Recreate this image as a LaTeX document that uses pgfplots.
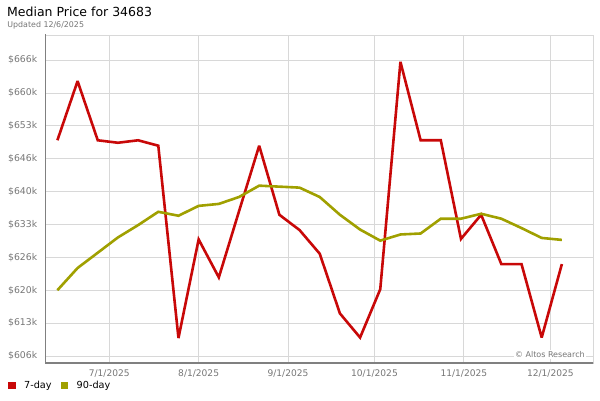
\documentclass[border=0pt]{standalone}
\usepackage{pgfplots}
\pgfplotsset{compat=1.18}
\usepackage{fontspec}
\setmainfont{DejaVu Sans}
\definecolor{cred}{RGB}{200,8,8}
\definecolor{cyel}{RGB}{160,160,0}
\definecolor{gridg}{RGB}{216,216,216}
\definecolor{barg}{RGB}{128,128,128}
\definecolor{tickg}{RGB}{118,118,118}
\begin{document}
\begin{tikzpicture}[x=1pt,y=1pt]
\useasboundingbox (0,0) rectangle (600,400);
\node[anchor=base west,inner sep=0pt,font=\fontsize{12.5}{14}\selectfont] at (7,383) {Median Price for 34683};
\node[anchor=base west,inner sep=0pt,text=tickg,font=\fontsize{7.9}{9}\selectfont] at (7.2,372.5) {Updated 12/6/2025};
\begin{axis}[
  at={(45pt,37pt)}, anchor=south west,
  scale only axis, width=548pt, height=328pt,
  xmin=-22.3, xmax=167.8, ymin=605.24, ymax=671.75,
  xtick={0,31,62,92,123,153},
  xticklabels={7/1/2025,8/1/2025,9/1/2025,10/1/2025,11/1/2025,12/1/2025},
  ytick={606.667,613.333,620,626.667,633.333,640,646.667,653.333,660,666.667},
  yticklabels={\$606k,\$613k,\$620k,\$626k,\$633k,\$640k,\$646k,\$653k,\$660k,\$666k},
  major tick length=0pt,
  grid=major,
  grid style={draw=gridg, line width=0.8pt},
  axis line style={draw=gridg, line width=0.8pt},
  ticklabel style={text=tickg},
  yticklabel style={xshift=-4.3pt, font=\fontsize{9.3}{10}\selectfont},
  xticklabel style={yshift=-3pt, font=\fontsize{9.1}{10}\selectfont},
  legend columns=2,
  legend style={at={(-0.067,-0.0686)}, anchor=west, draw=none, fill=none, inner sep=0pt,
    font=\fontsize{9.7}{11}\selectfont, nodes={inner sep=0pt},
    /tikz/every odd column/.append style={column sep=8.5pt},
    /tikz/every even column/.append style={column sep=9.5pt}},
  legend image code/.code={\fill[#1] (0pt,-2.2pt) rectangle (4.5pt,2.3pt);},
]
\addplot[cred, line width=2.6pt, line join=miter, miter limit=3] coordinates {
(-18,650.4) (-11,662.4) (-4,650.4) (3,649.9) (10,650.4) (17,649.3) (24,610.3) (31,630.3)
(38,622.6) (45,636.0) (52,649.3) (59,635.3) (66,632.2) (73,627.4) (80,615.3) (87,610.4)
(94,620.2) (101,666.3) (108,650.4) (115,650.4) (122,630.4) (129,635.3) (136,625.3)
(143,625.3) (150,610.4) (157,625.3)};
\addlegendentry{7-day}
\addplot[cyel, line width=2.6pt] coordinates {
(-18,620.0) (-11,624.5) (-4,627.6) (3,630.7) (10,633.2) (17,635.9) (24,635.1) (31,637.1)
(38,637.5) (45,638.9) (52,641.2) (59,641.0) (66,640.8) (73,638.9) (80,635.3) (87,632.3)
(94,630.05) (101,631.3) (108,631.5) (115,634.5) (122,634.5) (129,635.5) (136,634.5)
(143,632.6) (150,630.6) (157,630.2)};
\addlegendentry{90-day}
\draw[barg, line width=3pt] (rel axis cs:0,1) ++(-0.5pt,1pt) -- ([xshift=-0.5pt,yshift=-3.5pt]rel axis cs:0,0);
\draw[barg, line width=3.5pt] ([yshift=-1.2pt]rel axis cs:0,0) -- ([xshift=4pt,yshift=-1.2pt]rel axis cs:1,0);
\node[anchor=east, fill=white, inner sep=1.5pt, text=tickg, font=\fontsize{8}{9}\selectfont] at (rel axis cs:0.988,0.027) {© Altos Research};
\end{axis}
\end{tikzpicture}
\end{document}
